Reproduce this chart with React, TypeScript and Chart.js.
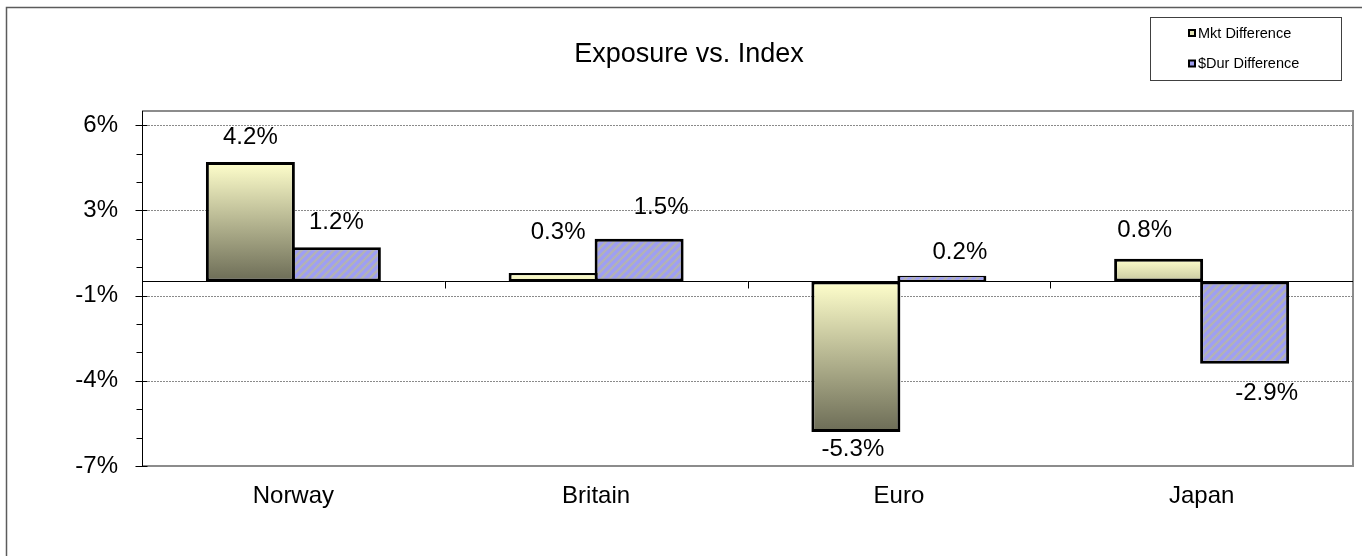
import React, { useEffect, useRef } from "react";
import { Chart, registerables } from "chart.js";

Chart.register(...registerables);

// ---------------- data ----------------
const categories = ["Norway", "Britain", "Euro", "Japan"];
const mktDifference = [4.2, 0.3, -5.3, 0.8];
const durDifference = [1.2, 1.5, 0.2, -2.9];
const seriesNames = ["Mkt Difference", "$Dur Difference"];
const yTickValues = [-6.5, -3.5, -0.5, 2.5, 5.5];
const yMin = -6.5;
const yMax = 6.0;
const chartTitle = "Exposure vs. Index";

// ---------------- style ----------------
const FONT = "'Liberation Sans', Arial, Helvetica, sans-serif";
const W = 1362;
const H = 556;

// per-label nudges (dx, dy) in px, as hand-placed in the original
const labelNudges = [
  [[0, 0], [5, -16], [-3, 0], [-14, -3]],
  [[0, 0], [22, -6], [18, 2], [22, 13]],
];

function excelRound(v: number): number {
  const r = Math.sign(v) * Math.round(Math.abs(v) + 1e-9);
  return r === 0 ? 0 : r;
}

function makeHatch(): CanvasPattern | string {
  const pc = document.createElement("canvas");
  pc.width = 8;
  pc.height = 8;
  const p = pc.getContext("2d");
  if (!p) return "#A0A0F0";
  p.fillStyle = "#9E9EF6";
  p.fillRect(0, 0, 8, 8);
  p.strokeStyle = "#B2B2B6";
  p.lineWidth = 2.6;
  p.beginPath();
  p.moveTo(-2, 10);
  p.lineTo(10, -2);
  p.moveTo(-2, 2);
  p.lineTo(2, -2);
  p.moveTo(6, 10);
  p.lineTo(10, 6);
  p.stroke();
  const pat = p.createPattern(pc, "repeat");
  return pat || "#A0A0F0";
}

function barBorder(c: any) {
  if (c.type !== "data") return 3;
  const y = c.chart.scales && c.chart.scales.y;
  const v = c.raw as number;
  if (!y || typeof v !== "number") return 3;
  const h = Math.abs(y.getPixelForValue(v) - y.getPixelForValue(0));
  const t = Math.min(3, Math.max(1.2, h / 3.6));
  return { left: 3, right: 3, top: t, bottom: t };
}

const framePlugin = {
  id: "framePlugin",
  beforeDatasetsDraw(chart: any) {
    const { ctx, chartArea: a, scales } = chart;
    const y = scales.y;
    ctx.save();
    // outer chart frame (left and top visible)
    ctx.strokeStyle = "#5c5c5c";
    ctx.lineWidth = 1.5;
    ctx.beginPath();
    ctx.moveTo(6.5, H);
    ctx.lineTo(6.5, 7.5);
    ctx.lineTo(W, 7.5);
    ctx.stroke();

    // dotted gridlines at major ticks
    ctx.strokeStyle = "#8a8a8a";
    ctx.lineWidth = 1;
    ctx.setLineDash([2, 1]);
    for (const v of yTickValues) {
      if (v <= yMin) continue;
      const py = Math.round(y.getPixelForValue(v)) + 0.5;
      ctx.beginPath();
      ctx.moveTo(a.left, py);
      ctx.lineTo(a.right, py);
      ctx.stroke();
    }
    ctx.setLineDash([]);

    // plot area frame: top, right, bottom
    ctx.strokeStyle = "#8c8c8c";
    ctx.lineWidth = 2;
    ctx.beginPath();
    ctx.moveTo(a.left, a.top);
    ctx.lineTo(a.right, a.top);
    ctx.lineTo(a.right, a.bottom);
    ctx.lineTo(a.left, a.bottom);
    ctx.stroke();

    // y axis line
    ctx.strokeStyle = "#000";
    ctx.lineWidth = 1;
    const ax = Math.round(a.left) + 0.5;
    ctx.beginPath();
    ctx.moveTo(ax, a.top);
    ctx.lineTo(ax, a.bottom);
    ctx.stroke();

    // minor ticks
    for (let v = yMin; v <= yMax + 1e-9; v += 1) {
      const py = Math.round(y.getPixelForValue(v)) + 0.5;
      ctx.beginPath();
      ctx.moveTo(ax - 6, py);
      ctx.lineTo(ax, py);
      ctx.stroke();
    }
    // major ticks (cross the axis)
    for (const v of yTickValues) {
      const py = Math.round(y.getPixelForValue(v)) + 0.5;
      ctx.beginPath();
      ctx.moveTo(ax - 7, py);
      ctx.lineTo(ax + 5, py);
      ctx.stroke();
    }

    // zero line (category axis)
    const zy = Math.round(y.getPixelForValue(0)) + 0.5;
    ctx.beginPath();
    ctx.moveTo(a.left, zy);
    ctx.lineTo(a.right, zy);
    ctx.stroke();
    // category boundary ticks on the zero line
    const n = categories.length;
    for (let i = 1; i < n; i++) {
      const px = Math.round(a.left + ((a.right - a.left) * i) / n) + 0.5;
      ctx.beginPath();
      ctx.moveTo(px, zy);
      ctx.lineTo(px, zy + 7);
      ctx.stroke();
    }
    ctx.restore();
  },
  afterDatasetsDraw(chart: any) {
    const { ctx } = chart;
    ctx.save();
    // data labels
    ctx.fillStyle = "#000";
    ctx.font = `24px ${FONT}`;
    ctx.textAlign = "center";
    ctx.textBaseline = "middle";
    chart.data.datasets.forEach((ds: any, di: number) => {
      const meta = chart.getDatasetMeta(di);
      meta.data.forEach((el: any, j: number) => {
        const v = ds.data[j] as number;
        const [dx, dy] = labelNudges[di][j];
        const cy = v >= 0 ? el.y - 25 + dy : el.y + 17 + dy;
        ctx.fillText(`${v.toFixed(1)}%`, el.x + dx, cy);
      });
    });

    // title
    ctx.font = `27px ${FONT}`;
    ctx.textBaseline = "alphabetic";
    ctx.fillText(chartTitle, 689, 62);

    // legend
    ctx.strokeStyle = "#404040";
    ctx.lineWidth = 1;
    ctx.strokeRect(1150.5, 17.5, 191, 63);
    const swatchFill = ["#E2E2B4", "#9C9CEE"];
    const rowsY = [33, 63.5];
    ctx.font = `14.5px ${FONT}`;
    ctx.textAlign = "left";
    ctx.textBaseline = "middle";
    seriesNames.forEach((name, i) => {
      const sy = rowsY[i];
      ctx.fillStyle = "#000";
      ctx.fillRect(1188, sy - 4, 8, 8);
      ctx.fillStyle = swatchFill[i];
      ctx.fillRect(1190, sy - 2, 4, 4);
      ctx.fillStyle = "#000";
      ctx.fillText(name, 1198, sy + 0.5);
    });
    ctx.restore();
  },
};

export default function App() {
  const canvasRef = useRef<HTMLCanvasElement | null>(null);

  useEffect(() => {
    const canvas = canvasRef.current;
    if (!canvas) return;
    const hatch = makeHatch();

    const mktFill = (c: any) => {
      if (c.type !== "data") return "#FFFFCC";
      const chart = c.chart;
      const y = chart.scales && chart.scales.y;
      const v = c.raw as number;
      if (!y || typeof v !== "number") return "#FFFFCC";
      const p0 = y.getPixelForValue(0);
      const p1 = y.getPixelForValue(v);
      if (!isFinite(p0) || !isFinite(p1)) return "#FFFFCC";
      const top = Math.min(p0, p1);
      const span = Math.max(Math.abs(p1 - p0), 60);
      const g = chart.ctx.createLinearGradient(0, top, 0, top + span);
      g.addColorStop(0, "#FFFFCC");
      g.addColorStop(1, "#6C6C56");
      return g;
    };

    const chart = new Chart(canvas, {
      type: "bar",
      data: {
        labels: categories,
        datasets: [
          {
            label: seriesNames[0],
            data: mktDifference,
            backgroundColor: mktFill,
            borderColor: "#000",
            borderWidth: barBorder,
            borderSkipped: false,
            categoryPercentage: 0.5681,
            barPercentage: 1.0349,
          },
          {
            label: seriesNames[1],
            data: durDifference,
            backgroundColor: hatch,
            borderColor: "#000",
            borderWidth: barBorder,
            borderSkipped: false,
            categoryPercentage: 0.5681,
            barPercentage: 1.0349,
          },
        ],
      },
      options: {
        animation: false,
        responsive: false,
        devicePixelRatio: 1,
        layout: { padding: { left: 0, top: 111, right: W - 1353, bottom: 0 } },
        plugins: {
          legend: { display: false },
          title: { display: false },
          tooltip: { enabled: false },
        },
        scales: {
          x: {
            type: "category",
            grid: { display: false, drawTicks: false },
            border: { display: false },
            ticks: {
              color: "#000",
              font: { family: FONT, size: 24 },
              padding: 16,
              maxRotation: 0,
              autoSkip: false,
            },
            afterFit: (s: any) => {
              s.height = H - 466;
            },
          },
          y: {
            type: "linear",
            min: yMin,
            max: yMax,
            afterBuildTicks: (s: any) => {
              s.ticks = yTickValues.map((v) => ({ value: v }));
            },
            grid: { display: false, drawTicks: false },
            border: { display: false },
            ticks: {
              color: "#000",
              font: { family: FONT, size: 24 },
              padding: 24,
              autoSkip: false,
              callback: (v: any) => `${excelRound(Number(v))}%`,
            },
            afterFit: (s: any) => {
              s.width = 142;
            },
          },
        },
      },
      plugins: [framePlugin],
    });

    return () => {
      chart.destroy();
    };
  }, []);

  return (
    <div style={{ position: "absolute", left: 0, top: 0, width: W, height: H, background: "#fff" }}>
      <canvas ref={canvasRef} width={W} height={H} style={{ display: "block", width: W, height: H }} />
    </div>
  );
}
